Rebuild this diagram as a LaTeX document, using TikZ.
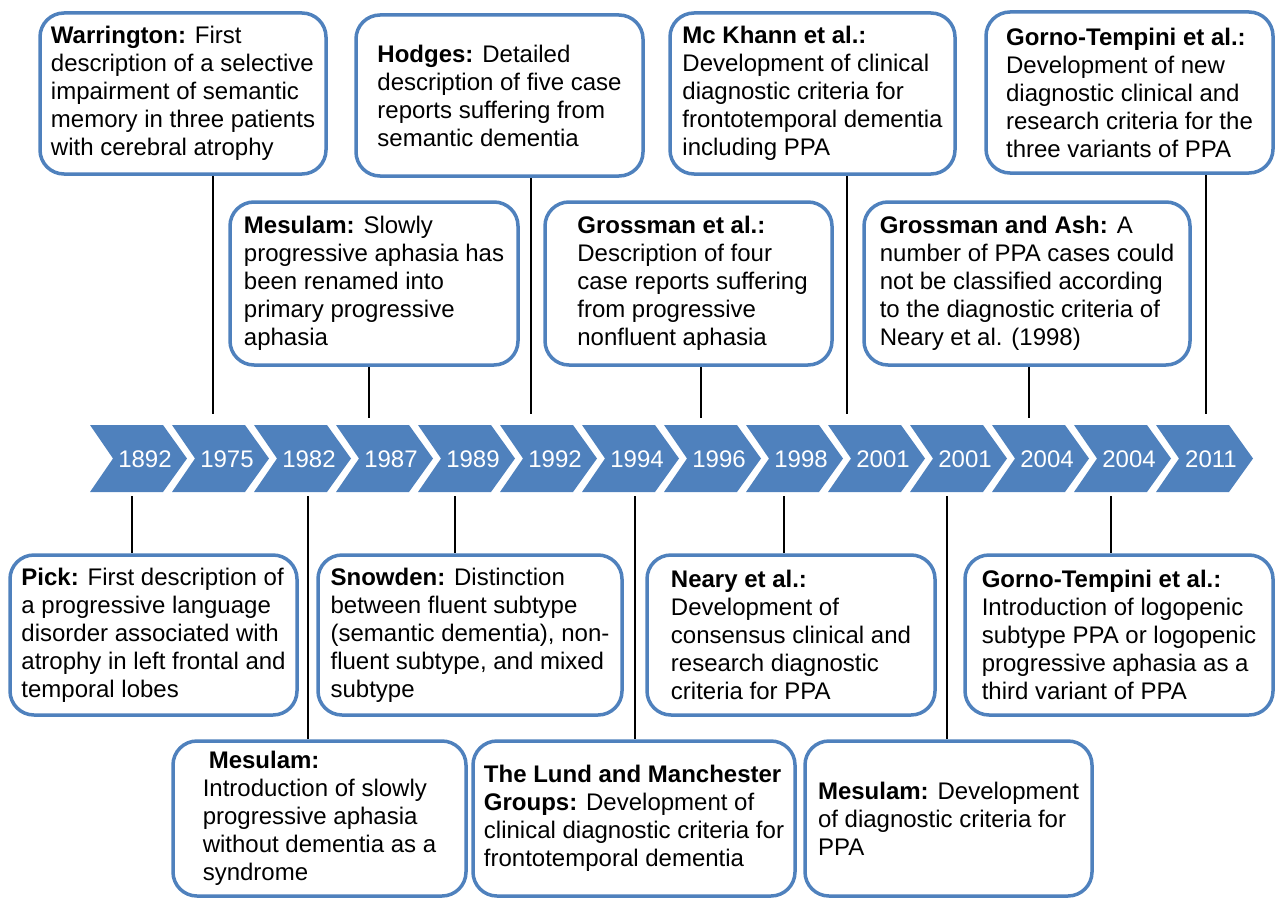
\documentclass[tikz,border=0pt]{standalone}
\usepackage{fontspec}
\setmainfont{Liberation Sans}
\usepackage{tikz}
\usepackage{xcolor}
\definecolor{chevblue}{HTML}{4F81BD}

\begin{document}
\begin{tikzpicture}[x=1pt,y=-1pt,
    every node/.style={font=\fontsize{24}{28}\selectfont},
    event/.style={draw=chevblue,line width=3.5pt,rounded corners=24pt,fill=white,align=left,inner sep=0pt},
    yearlbl/.style={text=white,inner sep=0pt},
    link/.style={line width=1.6pt}]
  \useasboundingbox (0,0) rectangle (1276,899);
  % Time line
  \foreach \yr [count=\i] in {1892,1975,1982,1987,1989,1992,1994,1996,1998,2001,2001,2004,2004,2011} {
    \pgfmathsetmacro\xo{90+82*(\i-1)}
    \fill[chevblue] (\xo,425) -- ++(73,0) -- ++(24,33.5) -- ++(-24,33.5) -- ++(-73,0) -- ++(23,-33.5) -- cycle;
    \node[yearlbl] (y\i) at (\xo+55,459) {\yr};
  }
  % Upper events
  \node[event,minimum width=286,minimum height=161] (warr) at (183,93.5)
    {\textbf{Warrington:} First\\description of a selective\\impairment of semantic\\memory in three patients\\with cerebral atrophy};
  \node[event,minimum width=287,minimum height=161] (hodges) at (499.5,95.5)
    {\textbf{Hodges:} Detailed\\description of five case\\reports suffering from\\semantic dementia};
  \node[event,minimum width=285,minimum height=161] (mckhann) at (812.5,93.5)
    {\textbf{Mc Khann et al.:}\\Development of clinical\\diagnostic criteria for\\frontotemporal dementia\\including PPA};
  \node[event,minimum width=287,minimum height=161] (gornoA) at (1129.5,92.5)
    {\textbf{Gorno-Tempini et al.:}\\Development of new\\diagnostic clinical and\\research criteria for the\\three variants of PPA};
  \node[event,minimum width=288,minimum height=163] (mesulamB) at (374,283.5)
    {\textbf{Mesulam:} Slowly\\progressive aphasia has\\been renamed into\\primary progressive\\aphasia};
  \node[event,minimum width=287,minimum height=163] (grossA) at (688.5,283.5)
    {\hspace*{8pt}\textbf{Grossman et al.:}\\\hspace*{8pt}Description of four\\\hspace*{8pt}case reports suffering\\\hspace*{8pt}from progressive\\\hspace*{8pt}nonfluent aphasia};
  \node[event,minimum width=326,minimum height=163] (grossAsh) at (1027,283.5)
    {\textbf{Grossman and Ash:} A\\number of PPA cases could\\not be classified according\\to the diagnostic criteria of\\Neary et al. (1998)};
  % Lower events
  \node[event,minimum width=287,minimum height=160] (pick) at (153.5,635)
    {\textbf{Pick:} First description of\\a progressive language\\disorder associated with\\atrophy in left frontal and\\temporal lobes};
  \node[event,minimum width=304,minimum height=160] (snowden) at (470,635)
    {\textbf{Snowden:} Distinction\\between fluent subtype\\(semantic dementia), non-\\fluent subtype, and mixed\\subtype};
  \node[event,minimum width=288,minimum height=160] (neary) at (791,635)
    {\textbf{Neary et al.:}\\Development of\\consensus clinical and\\research diagnostic\\criteria for PPA};
  \node[event,minimum width=308,minimum height=160] (gornoB) at (1119,635)
    {\textbf{Gorno-Tempini et al.:}\\Introduction of logopenic\\subtype PPA or logopenic\\progressive aphasia as a\\third variant of PPA};
  \node[event,minimum width=293,minimum height=155] (mesulamA) at (319.5,818.5)
    {\hspace*{6pt}\textbf{Mesulam:}\\Introduction of slowly\\progressive aphasia\\without dementia as a\\syndrome};
  \node[event,minimum width=322,minimum height=155] (lund) at (634,818.5)
    {\textbf{The Lund and Manchester}\\\textbf{Groups:} Development of\\clinical diagnostic criteria for\\frontotemporal dementia};
  \node[event,minimum width=287,minimum height=155] (mesulamC) at (948.5,818.5)
    {\textbf{Mesulam:} Development\\of diagnostic criteria for\\PPA};
  % Connector ends
  \coordinate (t1975) at (213,414);
  \coordinate (t1987) at (369,418);
  \coordinate (t1992) at (531,414);
  \coordinate (t1996) at (701,418);
  \coordinate (t2001) at (847,414);
  \coordinate (t2004) at (1029,418);
  \coordinate (t2011) at (1206,414);
  \coordinate (b1892) at (132,496);
  \coordinate (b1982) at (308,496);
  \coordinate (b1989) at (455,496);
  \coordinate (b1994) at (635,496);
  \coordinate (b1998) at (784,496);
  \coordinate (b2001) at (947,496);
  \coordinate (b2004) at (1111,496);
  % Connectors
  \draw[link] (warr.south -| t1975) -- (t1975);
  \draw[link] (mesulamB.south -| t1987) -- (t1987);
  \draw[link] (hodges.south -| t1992) -- (t1992);
  \draw[link] (grossA.south -| t1996) -- (t1996);
  \draw[link] (mckhann.south -| t2001) -- (t2001);
  \draw[link] (grossAsh.south -| t2004) -- (t2004);
  \draw[link] (gornoA.south -| t2011) -- (t2011);
  \draw[link] (b1892) -- (pick.north -| b1892);
  \draw[link] (b1982) -- (mesulamA.north -| b1982);
  \draw[link] (b1989) -- (snowden.north -| b1989);
  \draw[link] (b1994) -- (lund.north -| b1994);
  \draw[link] (b1998) -- (neary.north -| b1998);
  \draw[link] (b2001) -- (mesulamC.north -| b2001);
  \draw[link] (b2004) -- (gornoB.north -| b2004);
\end{tikzpicture}
\end{document}
